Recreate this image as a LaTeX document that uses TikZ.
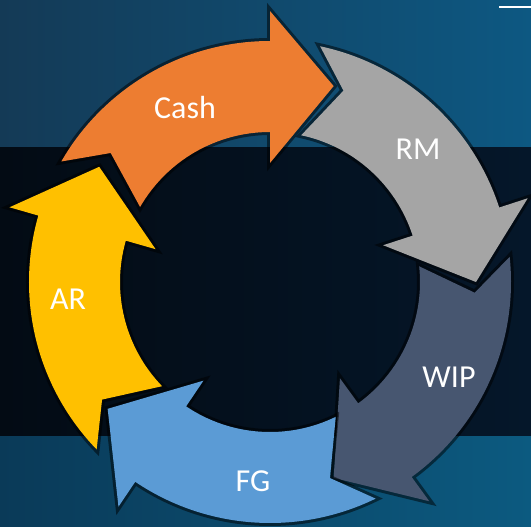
\documentclass[tikz,border=0pt]{standalone}
\usepackage{fontspec}
\setmainfont{Carlito}
\definecolor{cashc}{HTML}{ED7D31}
\definecolor{rmc}{HTML}{A5A5A5}
\definecolor{wipc}{HTML}{475670}
\definecolor{fgc}{HTML}{5B9BD5}
\definecolor{arc}{HTML}{FFC000}
\definecolor{bgtopL}{HTML}{143A56}
\definecolor{bgtopR}{HTML}{0D5882}
\definecolor{bandL}{HTML}{030B14}
\definecolor{bandR}{HTML}{05172A}
\definecolor{bgbotL}{HTML}{0A3A58}
\definecolor{bgbotR}{HTML}{0C5A80}
\tikzset{
  arrowshape/.style={fill=#1, preaction={draw=black, draw opacity=0.5, line width=6pt, line join=miter}},
  lbl/.style={text=white, font=\fontsize{32}{32}\selectfont, inner sep=0pt}
}
\newcommand{\cyclearrow}[2]{%
  \pgfmathsetmacro{\sA}{#1}%
  \pgfmathsetmacro{\nA}{#1-60}%
  \pgfmathsetmacro{\tA}{#1-78}%
  \pgfmathsetmacro{\kA}{#1-9}%
  \path[arrowshape=#2] (\sA:241pt)
    arc[start angle=\sA, end angle=\nA, radius=241pt]
    -- (\nA:271pt) -- (\tA:206pt) -- (\nA:119pt) -- (\nA:150pt)
    arc[start angle=\nA, end angle=\sA, radius=150pt]
    -- (\kA:205pt) -- cycle;
}
\begin{document}
\begin{tikzpicture}[x=1pt,y=1pt]
\useasboundingbox (0,0) rectangle (531,-527);
% background
\shade[left color=bgtopL, right color=bgtopR] (0,0) rectangle (531,-148);
\shade[left color=bandL, right color=bandR] (0,-148) rectangle (531,-436);
\shade[left color=bgbotL, right color=bgbotR] (0,-436) rectangle (531,-527);
\coordinate (wl1) at (499,-7);
\coordinate (wl2) at (531,-7);
\draw[white, line width=2.5pt] (wl1) -- (wl2);
% cycle arrows
\begin{scope}[shift={(270,-282)}]
  \cyclearrow{224}{arc}
  \cyclearrow{150}{cashc}
  \cyclearrow{78}{rmc}
  \cyclearrow{6}{wipc}
  \cyclearrow{296}{fgc}
\end{scope}
% labels
\node[lbl] (cash) at (185,-108) {Cash};
\node[lbl] (rm) at (418,-149) {RM};
\node[lbl] (wip) at (449,-377) {WIP};
\node[lbl] (fg) at (253,-481) {FG};
\node[lbl] (ar) at (68,-299) {AR};
\end{tikzpicture}
\end{document}
